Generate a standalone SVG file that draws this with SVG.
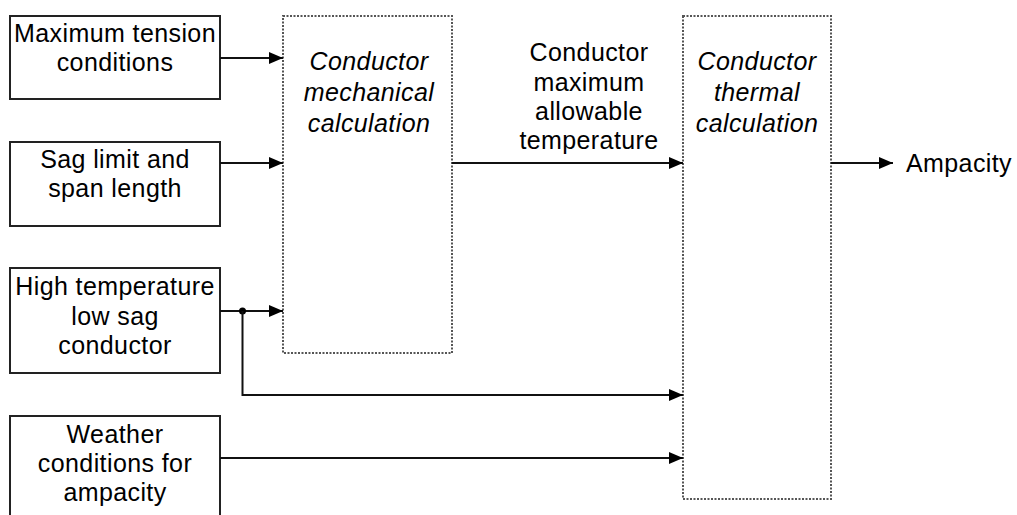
<svg xmlns="http://www.w3.org/2000/svg" width="1017" height="515" viewBox="0 0 1017 515">
<style>
.box{fill:#fff;stroke:#222;stroke-width:2}
.calc{fill:#fff;stroke:#555;stroke-width:2;stroke-dasharray:2 1.5}
.t{font-family:"Liberation Sans",Arial,sans-serif;font-size:25px;letter-spacing:0.4px;fill:#000;text-anchor:middle}
.i{font-style:italic}
.c{fill:none;stroke:#111;stroke-width:2}
</style>
<defs>
<marker id="ah" markerWidth="14" markerHeight="12" refX="14" refY="6" orient="auto" markerUnits="userSpaceOnUse">
<path d="M0,0 L14,6 L0,12 Z" fill="#000"/>
</marker>
</defs>
<g id="n-maxtension">
<rect class="box" x="10" y="16" width="210" height="83"/>
<text class="t" x="115" y="42">Maximum tension</text>
<text class="t" x="115" y="71">conditions</text>
</g>
<g id="n-sag">
<rect class="box" x="10" y="142" width="210" height="84"/>
<text class="t" x="115" y="168">Sag limit and</text>
<text class="t" x="115" y="197">span length</text>
</g>
<g id="n-htls">
<rect class="box" x="10" y="268" width="210" height="105"/>
<text class="t" x="115" y="295">High temperature</text>
<text class="t" x="115" y="325">low sag</text>
<text class="t" x="115" y="354">conductor</text>
</g>
<g id="n-weather">
<rect class="box" x="10" y="416" width="210" height="110"/>
<text class="t" x="115" y="443">Weather</text>
<text class="t" x="115" y="472">conditions for</text>
<text class="t" x="115" y="501">ampacity</text>
</g>
<g id="n-mech">
<rect class="calc" x="283" y="16" width="169" height="337"/>
<text class="t i" x="369" y="70">Conductor</text>
<text class="t i" x="369" y="101">mechanical</text>
<text class="t i" x="369" y="132">calculation</text>
</g>
<g id="n-thermal">
<rect class="calc" x="683" y="16" width="148" height="483"/>
<text class="t i" x="757" y="70">Conductor</text>
<text class="t i" x="757" y="101">thermal</text>
<text class="t i" x="757" y="132">calculation</text>
</g>
<g id="n-ampacity">
<text class="t" x="906" y="172" style="text-anchor:start">Ampacity</text>
</g>
<g id="connectors">
<line class="c" x1="220" y1="58" x2="283" y2="58" marker-end="url(#ah)"/>
<line class="c" x1="220" y1="163" x2="283" y2="163" marker-end="url(#ah)"/>
<line class="c" x1="220" y1="311" x2="283" y2="311" marker-end="url(#ah)"/>
<circle cx="242.5" cy="311" r="3.5" fill="#000"/>
<polyline class="c" points="242.5,311 242.5,395 683,395" marker-end="url(#ah)"/>
<line class="c" x1="220" y1="458" x2="683" y2="458" marker-end="url(#ah)"/>
<line class="c" x1="452" y1="163" x2="683" y2="163" marker-end="url(#ah)"/>
<line class="c" x1="831" y1="163" x2="893" y2="163" marker-end="url(#ah)"/>
<text class="t" x="589" y="61">Conductor</text>
<text class="t" x="589" y="91">maximum</text>
<text class="t" x="589" y="120">allowable</text>
<text class="t" x="589" y="149">temperature</text>
</g>
</svg>
